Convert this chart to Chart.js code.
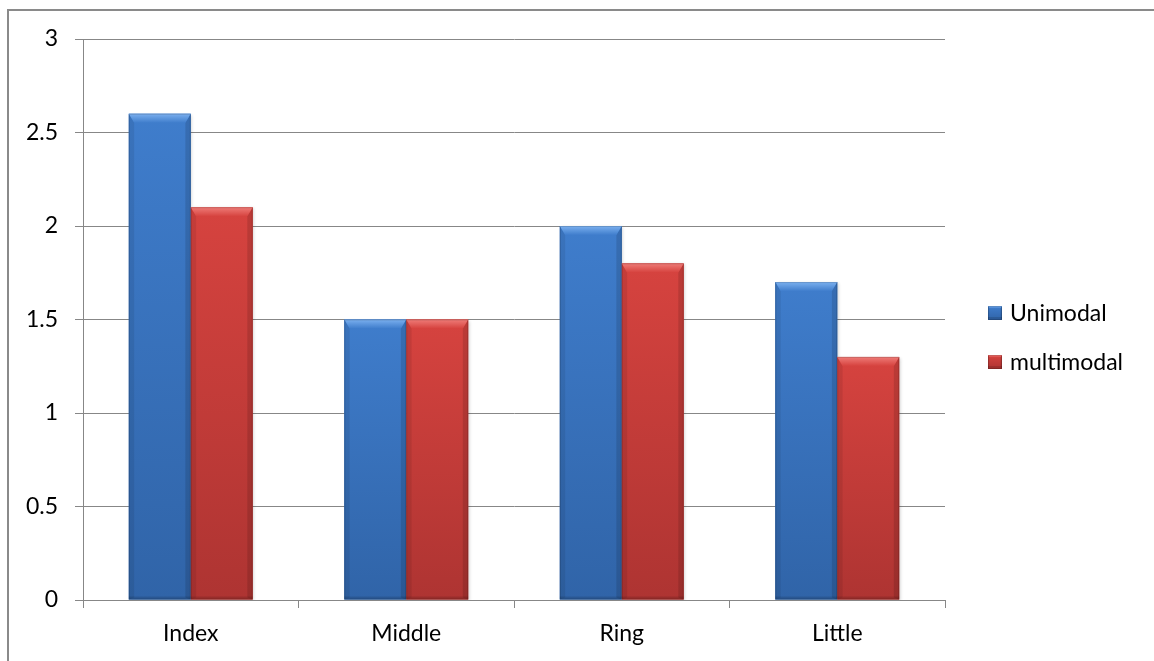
<!DOCTYPE html>
<html>
<head>
<meta charset="utf-8">
<script src="https://cdn.jsdelivr.net/npm/chart.js@4.4.1/dist/chart.umd.min.js"></script>
<style>
  html, body { margin: 0; padding: 0; background: #ffffff; }
  #wrap { width: 1154px; height: 661px; position: relative; overflow: hidden; }
  canvas { display: block; }
</style>
</head>
<body>
<div id="wrap"><canvas id="chart" width="1154" height="661"></canvas></div>
<script>
// ---- data ----
const categories = ['Index', 'Middle', 'Ring', 'Little'];
const seriesNames = ['Unimodal', 'multimodal'];
const unimodal = [2.6, 1.5, 2.0, 1.7];
const multimodal = [2.1, 1.5, 1.8, 1.3];
const yTicks = [0, 0.5, 1, 1.5, 2, 2.5, 3];
const yTickLabels = ['0', '0.5', '1', '1.5', '2', '2.5', '3'];

// ---- styling ----
const FONT = 'Lato, "Open Sans", sans-serif';
const FONT_SIZE = 23;
const GRID = '#878787';
const palette = [
  { face: '#3F7DCC', light: '#7BB0EF', dark: '#3064A8' },
  { face: '#D6433F', light: '#EF7C78', dark: '#AE3432' }
];

// bevelled, softly shaded bar face
function shadeBar(ctx, l, r, t, b, col) {
  const w = r - l, h = b - t;
  if (w <= 0 || h <= 0) return;
  const bev = Math.min(9, w / 6, h / 2);
  const side = bev * 0.6;
  ctx.save();
  // base face, darkening towards the bottom
  const gv = ctx.createLinearGradient(0, t, 0, b);
  gv.addColorStop(0, col.face);
  gv.addColorStop(1, col.dark);
  ctx.fillStyle = gv;
  ctx.fillRect(l, t, w, h);

  // side bevels (slightly darker)
  ctx.fillStyle = 'rgba(0,0,0,0.08)';
  ctx.beginPath();
  ctx.moveTo(l, t); ctx.lineTo(l + side, t + bev); ctx.lineTo(l + side, b - 2); ctx.lineTo(l, b);
  ctx.closePath(); ctx.fill();
  ctx.fillStyle = 'rgba(0,0,0,0.12)';
  ctx.beginPath();
  ctx.moveTo(r, t); ctx.lineTo(r - side, t + bev); ctx.lineTo(r - side, b - 2); ctx.lineTo(r, b);
  ctx.closePath(); ctx.fill();

  // top bevel (lighter)
  const gt = ctx.createLinearGradient(0, t, 0, t + bev);
  gt.addColorStop(0, col.light);
  gt.addColorStop(1, col.face);
  ctx.fillStyle = gt;
  ctx.beginPath();
  ctx.moveTo(l, t); ctx.lineTo(r, t); ctx.lineTo(r - side, t + bev); ctx.lineTo(l + side, t + bev);
  ctx.closePath(); ctx.fill();

  // bottom rim
  ctx.fillStyle = 'rgba(0,0,0,0.12)';
  ctx.fillRect(l, b - 3, w, 3);

  // thin outline
  ctx.strokeStyle = 'rgba(0,0,0,0.15)';
  ctx.lineWidth = 1;
  ctx.strokeRect(l + 0.5, t + 0.5, w - 1, h - 1);
  ctx.restore();
}

const framePlugin = {
  id: 'frame',
  beforeDraw(chart) {
    const ctx = chart.ctx;
    ctx.save();
    ctx.fillStyle = '#ffffff';
    ctx.fillRect(0, 0, chart.width, chart.height);
    ctx.strokeStyle = '#8a8a8a';
    ctx.lineWidth = 2;
    ctx.strokeRect(8, 10, chart.width + 20, chart.height + 20);
    ctx.restore();
  }
};

const bevelPlugin = {
  id: 'bevel',
  beforeDatasetsDraw(chart) {
    const ctx = chart.ctx;
    ctx.save();
    ctx.shadowColor = 'rgba(0,0,0,0.18)';
    ctx.shadowBlur = 3;
    ctx.shadowOffsetX = 1.5;
    ctx.shadowOffsetY = 1;
  },
  afterDatasetsDraw(chart) {
    const ctx = chart.ctx;
    ctx.restore();
    chart.data.datasets.forEach((ds, di) => {
      const meta = chart.getDatasetMeta(di);
      meta.data.forEach(bar => {
        const p = bar.getProps(['x', 'y', 'base', 'width'], true);
        shadeBar(ctx, p.x - p.width / 2, p.x + p.width / 2, p.y, p.base, palette[di]);
      });
    });
  }
};

const legendPlugin = {
  id: 'sideLegend',
  afterDraw(chart) {
    const ctx = chart.ctx;
    const x0 = 988, y0 = 313, step = 49, box = 14;
    ctx.save();
    chart.data.datasets.forEach((ds, i) => {
      const cy = y0 + i * step;
      shadeBar(ctx, x0, x0 + box, cy - box / 2, cy + box / 2, palette[i]);
      ctx.fillStyle = '#000000';
      ctx.font = FONT_SIZE + 'px ' + FONT;
      ctx.textBaseline = 'middle';
      ctx.textAlign = 'left';
      ctx.fillText(ds.label, x0 + box + 8, cy + 1);
    });
    ctx.restore();
  }
};

new Chart(document.getElementById('chart'), {
  type: 'bar',
  data: {
    labels: categories,
    datasets: [
      { label: seriesNames[0], data: unimodal, backgroundColor: palette[0].face },
      { label: seriesNames[1], data: multimodal, backgroundColor: palette[1].face }
    ]
  },
  options: {
    responsive: false,
    animation: false,
    devicePixelRatio: 1,
    categoryPercentage: 0.575,
    barPercentage: 1,
    layout: { padding: { left: 0, top: 39, right: 209, bottom: 0 } },
    plugins: {
      legend: { display: false },
      tooltip: { enabled: false }
    },
    scales: {
      x: {
        grid: { offset: true, drawOnChartArea: false, tickLength: 8, color: GRID, lineWidth: 1 },
        border: { color: GRID, width: 1 },
        ticks: { color: '#000', font: { family: FONT, size: FONT_SIZE }, padding: 12 },
        afterFit(s) { s.height = 61; }
      },
      y: {
        min: 0, max: 3,
        afterBuildTicks(s) { s.ticks = yTicks.map(v => ({ value: v })); },
        grid: { color: GRID, tickLength: 8, lineWidth: 1 },
        border: { color: GRID, width: 1 },
        ticks: {
          color: '#000', font: { family: FONT, size: FONT_SIZE }, padding: 17,
          callback(v) { const i = yTicks.indexOf(v); return i >= 0 ? yTickLabels[i] : String(v); }
        },
        afterFit(s) { s.width = 83; }
      }
    }
  },
  plugins: [framePlugin, bevelPlugin, legendPlugin]
});
</script>
</body>
</html>
